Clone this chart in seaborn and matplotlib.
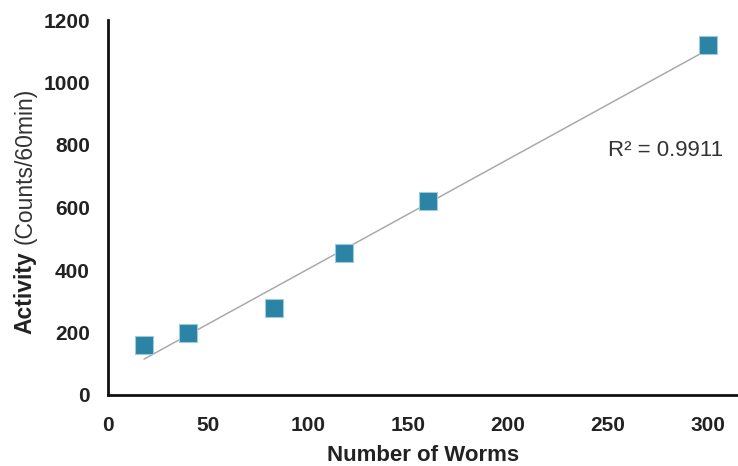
import numpy as np
import pandas as pd
import matplotlib
matplotlib.use("Agg")
import matplotlib.pyplot as plt
import seaborn as sns

worms = [18, 40, 83, 118, 160, 300]
activity = [160, 200, 280, 455, 620, 1120]
r2_label = "R² = 0.9911"
x_ticks = [0, 50, 100, 150, 200, 250, 300]
y_ticks = [0, 200, 400, 600, 800, 1000, 1200]

df = pd.DataFrame({"worms": worms, "activity": activity})

sns.set_style("white")
plt.rcParams['font.family'] = ['Liberation Sans', 'DejaVu Sans']

fig = plt.figure(figsize=(7.38, 4.66), dpi=100)
ax = fig.add_axes([108/738, (466-395)/466, 1 - 108/738, (395-20)/466])

slope, intercept = np.polyfit(df["worms"], df["activity"], 1)
xs = np.array([min(worms), max(worms)])
ax.plot(xs, slope * xs + intercept, color="#aaaaaa", lw=1.1, zorder=1)

sns.scatterplot(data=df, x="worms", y="activity", marker="s", s=150,
                color="#2b83a6", edgecolor="#9ccbdc", linewidth=0.8, ax=ax, zorder=3)

ax.set_xlim(0, 315)
ax.set_ylim(0, 1200)
ax.set_xticks(x_ticks)
ax.set_yticks(y_ticks)
ax.set_xticklabels([str(t) for t in x_ticks], fontsize=15, fontweight="bold", color="#222222")
ax.set_yticklabels([str(t) for t in y_ticks], fontsize=15, fontweight="bold", color="#222222")
ax.tick_params(axis="both", direction="inout", length=8, width=1.5, color="#111111")
ax.tick_params(axis="x", pad=11)
ax.tick_params(axis="y", pad=9)
for side in ["top", "right"]:
    ax.spines[side].set_visible(False)
for side in ["left", "bottom"]:
    ax.spines[side].set_color("#111111")
    ax.spines[side].set_linewidth(2)

ax.set_xlabel("Number of Worms", fontsize=16, fontweight="bold", color="#222222", labelpad=7)
ax.set_ylabel("")

fig.text(25/738, 1 - 334/466, "Activity", rotation=90, fontsize=16.5, fontweight="bold",
         color="#222222", ha="center", va="bottom")
fig.text(25.5/738, 1 - 244/466, "(Counts/60min)", rotation=90, fontsize=16.5,
         color="#333333", ha="center", va="bottom")

ax.text((723-108)/630, (395-150)/375, r2_label, transform=ax.transAxes, fontsize=16,
        color="#333333", ha="right", va="center")

fig.savefig("out.png", dpi=100)
